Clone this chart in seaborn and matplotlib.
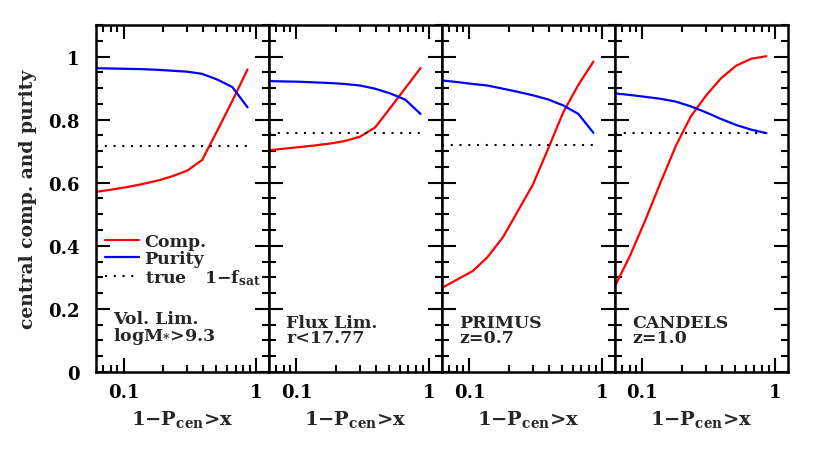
import numpy as np
import pandas as pd
import seaborn as sns
import matplotlib
matplotlib.use("Agg")
import matplotlib.pyplot as plt
from matplotlib.lines import Line2D
from matplotlib.ticker import FixedLocator, NullFormatter, MultipleLocator

# thresholds on 1 - P_cen
x_cut = [0.0625, 0.081, 0.106, 0.137, 0.179, 0.232, 0.302, 0.392, 0.51, 0.663, 0.862]

comp_vol = [0.571, 0.578, 0.586, 0.595, 0.606, 0.620, 0.638, 0.672, 0.765, 0.860, 0.959]
pur_vol = [0.963, 0.962, 0.961, 0.960, 0.958, 0.955, 0.952, 0.945, 0.927, 0.903, 0.839]

comp_flux = [0.703, 0.708, 0.713, 0.718, 0.724, 0.732, 0.746, 0.775, 0.837, 0.900, 0.963]
pur_flux = [0.922, 0.921, 0.920, 0.918, 0.916, 0.913, 0.908, 0.898, 0.883, 0.863, 0.818]

comp_primus = [0.267, 0.293, 0.320, 0.364, 0.427, 0.510, 0.595, 0.707, 0.823, 0.910, 0.984]
pur_primus = [0.924, 0.919, 0.913, 0.908, 0.898, 0.888, 0.877, 0.864, 0.845, 0.818, 0.758]

comp_candels = [0.274, 0.370, 0.484, 0.600, 0.717, 0.810, 0.876, 0.931, 0.971, 0.993, 1.001]
pur_candels = [0.883, 0.878, 0.872, 0.866, 0.857, 0.842, 0.823, 0.802, 0.783, 0.768, 0.757]

true_cen = [0.715, 0.758, 0.719, 0.758]
panel_labels = ["Vol. Lim.\nlogM$_{*}$>9.3", "Flux Lim.\nr<17.77", "PRIMUS\nz=0.7", "CANDELS\nz=1.0"]

comps = [comp_vol, comp_flux, comp_primus, comp_candels]
purs = [pur_vol, pur_flux, pur_primus, pur_candels]

sns.set_theme(style="white")
plt.rcParams["font.family"] = ["DejaVu Serif"]
plt.rcParams["font.weight"] = "bold"
plt.rcParams["axes.labelweight"] = "bold"
plt.rcParams["mathtext.fontset"] = "dejavuserif"
plt.rcParams["mathtext.default"] = "bf"

fig, axes = plt.subplots(1, 4, sharey=True, figsize=(8.31, 4.52), dpi=100)
fig.subplots_adjust(left=0.1155, right=0.948, bottom=0.175, top=0.9425, wspace=0)

palette = {"Comp.": "#ff0000", "Purity": "#0000ff"}

for i, ax in enumerate(axes):
    df = pd.DataFrame({
        "x": x_cut * 2,
        "y": comps[i] + purs[i],
        "kind": ["Comp."] * len(x_cut) + ["Purity"] * len(x_cut),
    })
    sns.lineplot(data=df, x="x", y="y", hue="kind", palette=palette, lw=1.6,
                 legend=False, ax=ax)
    ax.hlines(true_cen[i], x_cut[0], x_cut[-1], colors="black", lw=1.5,
              linestyles=(0, (1, 3.2)))
    ax.set_xscale("log")
    ax.set_xlim(0.062, 1.25)
    ax.set_ylim(0, 1.1)
    ax.xaxis.set_major_locator(FixedLocator([0.1, 1]))
    ax.xaxis.set_minor_locator(FixedLocator([0.07, 0.08, 0.09, 0.2, 0.3, 0.4, 0.5, 0.6, 0.7, 0.8, 0.9]))
    ax.xaxis.set_minor_formatter(NullFormatter())
    ax.set_xticklabels(["0.1", "1"])
    ax.yaxis.set_major_locator(MultipleLocator(0.2))
    ax.yaxis.set_minor_locator(MultipleLocator(0.05))
    ax.tick_params(which="both", direction="in", top=True, right=True,
                   bottom=True, left=True, width=1.5, colors="black",
                   labelsize=13)
    ax.tick_params(axis="x", pad=8)
    ax.tick_params(axis="y", pad=12)
    ax.tick_params(which="major", length=10)
    ax.tick_params(which="minor", length=5)
    for s in ax.spines.values():
        s.set_linewidth(1.8)
        s.set_color("black")
    ax.set_xlabel(r"1$-$P$_{cen}$>x", fontsize=14, labelpad=5)
    ax.set_ylabel("")
    ax.text(0.1, 0.075, panel_labels[i], transform=ax.transAxes, fontsize=12.5,
            ha="left", va="bottom", linespacing=0.85)

axes[0].set_yticks([0, 0.2, 0.4, 0.6, 0.8, 1.0])
axes[0].set_yticklabels(["0", "0.2", "0.4", "0.6", "0.8", "1"])
axes[0].set_ylabel("central comp. and purity", fontsize=13.5, labelpad=8)

handles = [Line2D([], [], color="#ff0000", lw=1.6),
           Line2D([], [], color="#0000ff", lw=1.6),
           Line2D([], [], color="black", lw=1.5, ls=(0, (1, 3.2)))]
labels = ["Comp.", "Purity", r"true   1$-$f$_{sat}$"]
axes[0].legend(handles, labels, loc="upper left", bbox_to_anchor=(0.05, 0.40),
               frameon=False, fontsize=12.5, handlelength=2.0, handletextpad=0.3,
               labelspacing=0.0, borderaxespad=0, borderpad=0)

fig.savefig("out.png", dpi=100)
